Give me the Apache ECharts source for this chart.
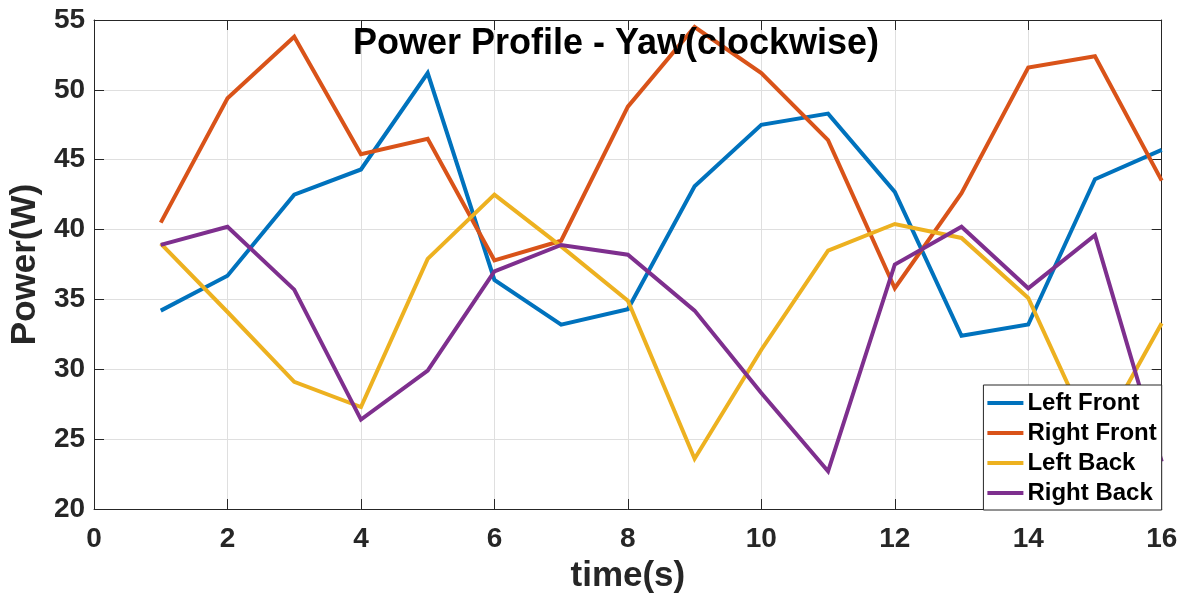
<!DOCTYPE html>
<html>
<head>
<meta charset="utf-8">
<script src="https://cdn.jsdelivr.net/npm/echarts@6/dist/echarts.min.js"></script>
<style>
  html, body { margin: 0; padding: 0; background: #ffffff; }
  #chart { width: 1185px; height: 599px; }
</style>
</head>
<body>
<div id="chart"></div>
<script>
// Sample times (s)
const times = [1, 2, 3, 4, 5, 6, 7, 8, 9, 10, 11, 12, 13, 14, 15, 16];

// Motor power draw (W) per wheel
const leftFront  = [34.2, 36.7, 42.5, 44.3, 51.2, 36.4, 33.2, 34.3, 43.1, 47.5, 48.3, 42.7, 32.4, 33.2, 43.6, 45.7];
const rightFront = [40.5, 49.4, 53.8, 45.4, 46.5, 37.8, 39.2, 48.8, 54.5, 51.2, 46.4, 35.8, 42.6, 51.6, 52.4, 43.5];
const leftBack   = [39.0, 34.1, 29.1, 27.3, 37.9, 42.5, 38.8, 34.9, 23.6, 31.4, 38.5, 40.4, 39.4, 35.1, 24.7, 33.3];
const rightBack  = [38.9, 40.2, 35.7, 26.4, 29.9, 37.0, 38.9, 38.2, 34.2, 28.3, 22.7, 37.5, 40.2, 35.8, 39.6, 23.4];

const seriesNames  = ['Left Front', 'Right Front', 'Left Back', 'Right Back'];
const seriesValues = [leftFront, rightFront, leftBack, rightBack];
const seriesColors = ['#0072BD', '#D95319', '#EDB120', '#7E2F8E'];

const axisColor = '#262626';
const gridColor = '#dfdfdf';
const fontFamily = '"Liberation Sans", Arial, Helvetica, sans-serif';

const chart = echarts.init(document.getElementById('chart'), null, { renderer: 'canvas' });

const series = seriesNames.map((name, i) => ({
  name: name,
  type: 'line',
  data: times.map((t, k) => [t, seriesValues[i][k]]),
  showSymbol: false,
  symbol: 'none',
  lineStyle: { width: 4, color: seriesColors[i], join: 'miter' },
  itemStyle: { color: seriesColors[i] },
  animation: false,
  z: 2 + i
}));

const option = {
  backgroundColor: '#ffffff',
  animation: false,
  title: {
    text: 'Power Profile - Yaw(clockwise)',
    left: 611,
    top: 21,
    textAlign: 'center',
    textStyle: { fontFamily: fontFamily, fontSize: 36, fontWeight: 'bold', color: '#000000' },
    z: 10
  },
  grid: { left: 89.5, right: 23.3, top: 20, bottom: 89, containLabel: false },
  legend: {
    data: seriesNames,
    orient: 'vertical',
    right: 23.3,
    bottom: 89,
    icon: 'rect',
    itemWidth: 36,
    itemHeight: 4,
    itemGap: 0,
    padding: [3, 5, 2, 4],
    backgroundColor: '#ffffff',
    borderColor: axisColor,
    borderWidth: 1,
    borderRadius: 0,
    textStyle: { fontFamily: fontFamily, fontSize: 24, fontWeight: 'bold', color: '#000000', lineHeight: 30, padding: [0, 0, 0, -1] },
    z: 20
  },
  xAxis: [
    {
      type: 'value', min: 0, max: 16, interval: 2,
      name: 'time(s)', nameLocation: 'middle', nameGap: 50,
      nameTextStyle: { fontFamily: fontFamily, fontSize: 35, fontWeight: 'bold', color: axisColor },
      axisLine: { show: true, onZero: false, lineStyle: { color: axisColor, width: 1 } },
      axisTick: { show: true, inside: true, length: 10, lineStyle: { color: axisColor, width: 1 } },
      axisLabel: { fontFamily: fontFamily, fontSize: 28, fontWeight: 'bold', color: axisColor, margin: 16 },
      splitLine: { show: true, lineStyle: { color: gridColor, width: 1 } }
    },
    {
      type: 'value', min: 0, max: 16, interval: 2, position: 'top',
      axisLine: { show: true, onZero: false, lineStyle: { color: axisColor, width: 1 } },
      axisTick: { show: true, inside: true, length: 10, lineStyle: { color: axisColor, width: 1 } },
      axisLabel: { show: false },
      splitLine: { show: false }
    }
  ],
  yAxis: [
    {
      type: 'value', min: 20, max: 55, interval: 5,
      name: 'Power(W)', nameLocation: 'middle', nameGap: 42,
      nameTextStyle: { fontFamily: fontFamily, fontSize: 35, fontWeight: 'bold', color: axisColor },
      axisLine: { show: true, onZero: false, lineStyle: { color: axisColor, width: 1 } },
      axisTick: { show: true, inside: true, length: 10, lineStyle: { color: axisColor, width: 1 } },
      axisLabel: { fontFamily: fontFamily, fontSize: 28, fontWeight: 'bold', color: axisColor, margin: 9 },
      splitLine: { show: true, lineStyle: { color: gridColor, width: 1 } }
    },
    {
      type: 'value', min: 20, max: 55, interval: 5, position: 'right',
      axisLine: { show: true, onZero: false, lineStyle: { color: axisColor, width: 1 } },
      axisTick: { show: true, inside: true, length: 10, lineStyle: { color: axisColor, width: 1 } },
      axisLabel: { show: false },
      splitLine: { show: false }
    }
  ],
  series: series
};

chart.setOption(option);
</script>
</body>
</html>
